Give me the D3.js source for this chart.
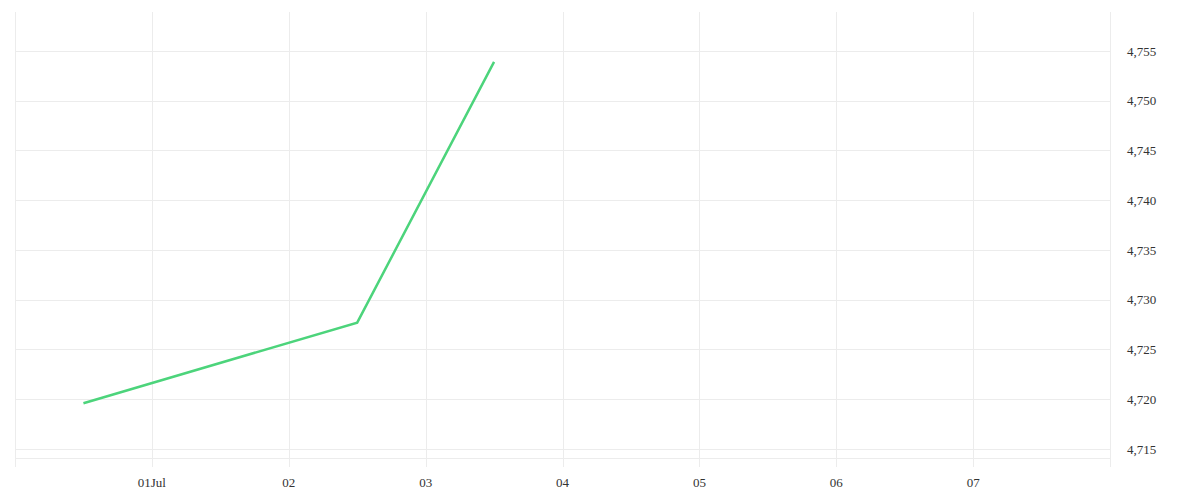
<!DOCTYPE html>
<html><head><meta charset="utf-8">
<script src="https://cdn.jsdelivr.net/npm/d3@7"></script>
<style>body{margin:0;background:#fff}svg{display:block}</style>
</head><body>
<script>
const dates = ["2024-06-30T12:00", "2024-07-02T12:00", "2024-07-03T12:00"];
const values = [4719.6, 4727.7, 4753.9];
const yTicks = [4715, 4720, 4725, 4730, 4735, 4740, 4745, 4750, 4755];
const xTicks = ["2024-07-01", "2024-07-02", "2024-07-03", "2024-07-04", "2024-07-05", "2024-07-06", "2024-07-07"];
const xTickLabels = ["01Jul", "02", "03", "04", "05", "06", "07"];

const W = 1200, H = 500;
const L = 15, R = 1110, T = 12, B = 458;
const parse = d3.timeParse("%Y-%m-%dT%H:%M");
const parseD = d3.timeParse("%Y-%m-%d");
const x = d3.scaleTime().domain([parseD("2024-06-30"), parseD("2024-07-08")]).range([L, R]);
const y = d3.scaleLinear().domain([4715 - 9/9.95, 4755 + 39/9.95]).range([B, T]);

const svg = d3.select("body").append("svg").attr("width", W).attr("height", H);
const font = "'Liberation Serif', serif";

// vertical grid
const xt = xTicks.map(parseD);
svg.append("g").selectAll("line").data([parseD("2024-06-30"), ...xt, parseD("2024-07-08")]).join("line")
  .attr("x1", d => Math.round(x(d)) + 0.5).attr("x2", d => Math.round(x(d)) + 0.5)
  .attr("y1", T).attr("y2", 467).attr("stroke", "#ececec").attr("stroke-width", 1);
// horizontal grid
svg.append("g").selectAll("line").data(yTicks).join("line")
  .attr("x1", L).attr("x2", R)
  .attr("y1", d => Math.round(y(d)) + 0.5).attr("y2", d => Math.round(y(d)) + 0.5)
  .attr("stroke", "#ececec");
svg.append("line").attr("x1", L).attr("x2", R).attr("y1", B + 0.5).attr("y2", B + 0.5).attr("stroke", "#ececec");

// y labels
const fmt = d3.format(",");
svg.append("g").selectAll("text").data(yTicks).join("text")
  .attr("x", 1127).attr("y", d => y(d)).attr("dy", "0.35em")
  .attr("font-family", font).attr("font-size", 13).attr("fill", "#333")
  .text(d => fmt(d));
// x labels
svg.append("g").selectAll("text").data(xt).join("text")
  .attr("x", d => x(d)).attr("y", 487).attr("text-anchor", "middle")
  .attr("font-family", font).attr("font-size", 13).attr("fill", "#333")
  .text((d, i) => xTickLabels[i]);

const data = dates.map((d, i) => ({ t: parse(d), v: values[i] }));
svg.append("path").datum(data)
  .attr("fill", "none").attr("stroke", "#4cd47b").attr("stroke-width", 2.5)
  .attr("d", d3.line().x(d => x(d.t)).y(d => y(d.v)));
</script>
</body></html>
